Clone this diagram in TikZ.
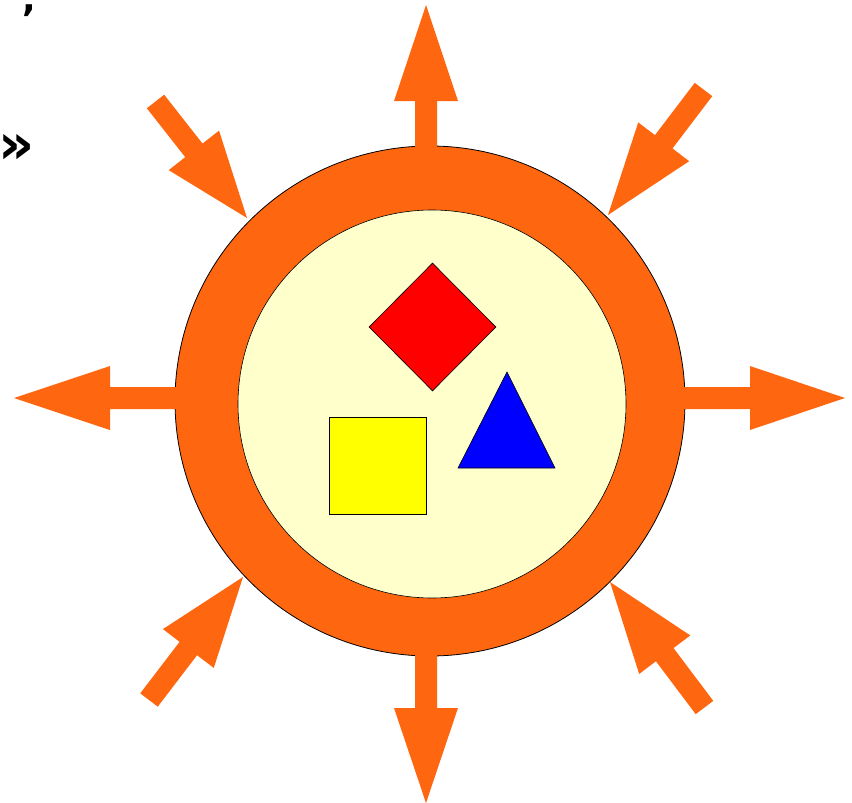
\documentclass[tikz,border=0pt]{standalone}
\usepackage{fontspec}
\newfontfamily\dejab{DejaVu Sans}
\usetikzlibrary{shapes.geometric}
\definecolor{orng}{RGB}{255,102,16}
\definecolor{paleyel}{RGB}{255,255,204}
\definecolor{pureyel}{RGB}{255,255,0}
\definecolor{purered}{RGB}{255,0,0}
\definecolor{pureblue}{RGB}{0,0,255}
\newcommand\fatarrow[6]{%
  \coordinate (#6-tail) at (#1,#2);
  \coordinate (#6-tip) at (#3,#4);
  \pgfmathsetmacro\ang{atan2(-(#4-#2),#3-#1)}%
  \pgfmathsetmacro\len{veclen(#3-#1,#4-#2)}%
  \pgfmathsetmacro\hb{\len-#5}%
  \fill[fat,shift={(#1,#2)},rotate=\ang] (0,-11) -- (\hb,-11) -- (\hb,-32) -- (\len,0) -- (\hb,32) -- (\hb,11) -- (0,11) -- cycle;
}
\begin{document}
\begin{tikzpicture}[x=1pt,y=-1pt,
  ring/.style={circle,draw=black,fill=orng,line width=0.8pt,inner sep=0pt},
  core/.style={circle,draw=black,fill=paleyel,line width=0.6pt,inner sep=0pt},
  fat/.style={fill=orng,draw=none},
  piece/.style={draw=black,line width=0.6pt,inner sep=0pt},
  glyph/.style={inner sep=0pt,anchor=base}]
\useasboundingbox (0,0) rectangle (852,803);
\node[ring, minimum size=510pt] (outer) at (430,401) {};
\node[core, minimum size=388pt] (inner) at (432,404) {};
% outward arrows
\fatarrow{426}{150}{426}{5}{96}{up}
\fatarrow{426}{652}{426}{803}{95}{down}
\fatarrow{180}{398}{14}{398}{96}{left}
\fatarrow{682}{398}{845}{398}{95}{right}
% inward arrows
\fatarrow{155.5}{101.5}{247}{218}{86}{tl}
\fatarrow{703.5}{89.5}{608}{215}{92}{tr}
\fatarrow{149}{700}{243}{577}{90}{bl}
\fatarrow{704.5}{707.5}{610}{582}{91}{br}
% contents
\node[piece, diamond, fill=purered, minimum width=127pt, minimum height=128pt] (dia) at (432.5,327) {};
\node[piece, rectangle, fill=pureyel, minimum width=97pt, minimum height=97pt] (sq) at (377.5,465.5) {};
\coordinate (tA) at (507,372);
\coordinate (tB) at (458,468);
\coordinate (tC) at (555,468);
\draw[piece, fill=pureblue] (tA) -- (tB) -- (tC) -- cycle;
% text fragments
\node[glyph, font=\dejab\bfseries\fontsize{36}{36}\selectfont, text height=7pt, text depth=8pt] (comma) at (29,12) {,};
\node[glyph, font=\dejab\bfseries\fontsize{56}{56}\selectfont, text height=24pt, text depth=2pt] (guil) at (17,163) {»};
\end{tikzpicture}
\end{document}
